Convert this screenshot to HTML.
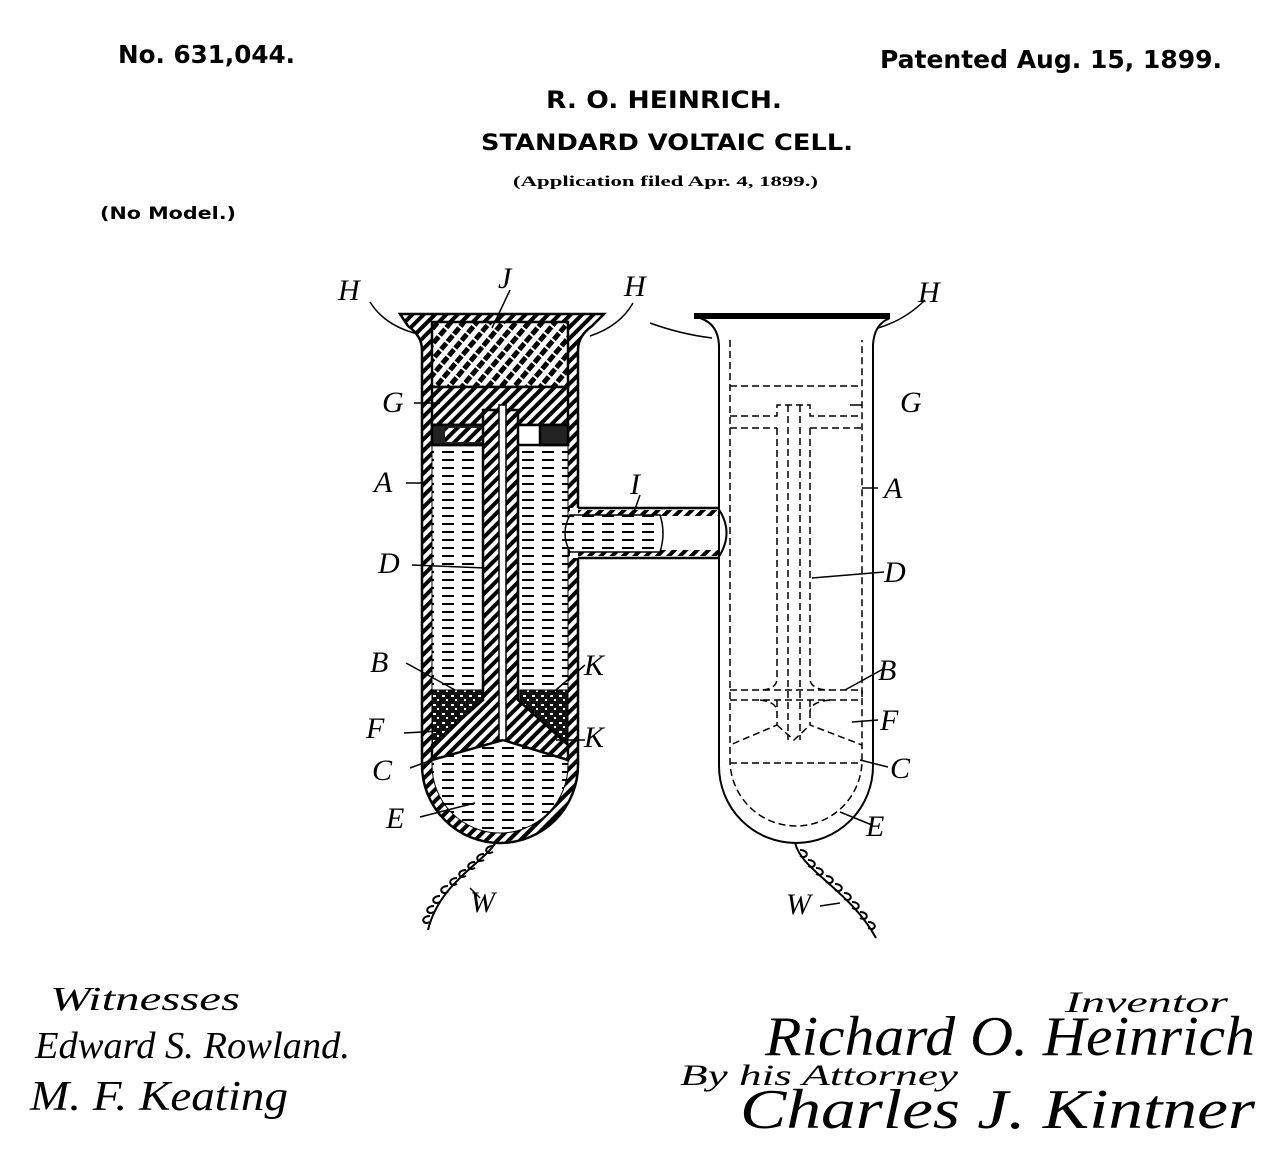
<!DOCTYPE html>
<html><head><meta charset="utf-8"><style>
body{margin:0;background:#fff;width:1280px;height:1163px;overflow:hidden}
svg{display:block}
.h{font-family:"DejaVu Sans","Liberation Sans",sans-serif;font-weight:bold;fill:#000}
.l{font-family:"Liberation Serif",serif;font-style:italic;font-size:30px;fill:#000}
.s{font-family:"Liberation Serif",serif;font-style:italic;fill:#000}
</style></head><body>
<svg width="1280" height="1163" viewBox="0 0 1280 1163" xmlns="http://www.w3.org/2000/svg">
<defs>
<pattern id="hat" width="8" height="8" patternUnits="userSpaceOnUse" patternTransform="rotate(45)"><rect width="8" height="8" fill="#fff"/><rect width="4" height="8" fill="#000"/></pattern>
<pattern id="cross" width="10" height="10" patternUnits="userSpaceOnUse" patternTransform="rotate(40)"><rect width="10" height="10" fill="#fff"/><rect width="5" height="10" fill="#000"/><rect y="4" width="10" height="2" fill="#fff"/></pattern>
<pattern id="liq" width="20" height="8" patternUnits="userSpaceOnUse"><rect width="20" height="8" fill="#fff"/><rect x="2" y="3" width="12" height="2" fill="#000"/><rect x="-8" y="7" width="6" height="1" fill="#000"/></pattern>
<pattern id="grav" width="9" height="9" patternUnits="userSpaceOnUse"><rect width="9" height="9" fill="#111"/><rect x="1" y="2" width="3" height="2" fill="#fff"/><rect x="5" y="6" width="2" height="2" fill="#fff"/></pattern>
</defs>
<!-- header -->
<g lengthAdjust="spacingAndGlyphs">
<text class="h" x="118" y="63" font-size="25" textLength="177" lengthAdjust="spacingAndGlyphs">No. 631,044.</text>
<text class="h" x="880" y="68" font-size="25" textLength="342" lengthAdjust="spacingAndGlyphs">Patented Aug. 15, 1899.</text>
<text class="h" x="546" y="108" font-size="24" textLength="236" lengthAdjust="spacingAndGlyphs">R. O. HEINRICH.</text>
<text class="h" x="481" y="150" font-size="22" textLength="372" lengthAdjust="spacingAndGlyphs">STANDARD VOLTAIC CELL.</text>
<text x="513" y="186" font-size="15" font-weight="bold" font-family="Liberation Serif,serif" textLength="305" lengthAdjust="spacingAndGlyphs">(Application filed Apr. 4, 1899.)</text>
<text class="h" x="100" y="219" font-size="17" textLength="136" lengthAdjust="spacingAndGlyphs">(No Model.)</text>
</g>

<!-- LEFT TUBE -->
<g stroke="#000" stroke-width="2.5">
<path d="M400,314 L604,314 L592,326 Q578,336 578,350 L578,765 A78,78 0 0 1 422,765 L422,350 Q422,336 408,326 Z" fill="url(#hat)"/>
<path d="M432,330 L568,330 L568,765 A68,68 0 0 1 432,765 Z" fill="url(#liq)" stroke-width="1"/>
<rect x="432" y="322" width="136" height="65" fill="url(#cross)"/>
<rect x="432" y="387" width="136" height="38" fill="url(#hat)"/>
<rect x="432" y="425" width="136" height="20" fill="#fff"/>
<rect x="432" y="425" width="55" height="20" fill="#222"/><rect x="445" y="428" width="40" height="14" fill="url(#hat)" stroke="none"/>
<rect x="540" y="425" width="28" height="20" fill="#222"/>
<path d="M432,690 L485,690 L485,740 L432,760 Z" fill="url(#grav)" stroke-width="1"/>
<path d="M568,690 L520,690 L520,730 L568,760 Z" fill="url(#grav)" stroke-width="1"/>
<path d="M483,410 L518,410 L518,700 L568,745 L568,760 L503,740 L432,760 L432,745 L483,700 Z" fill="url(#hat)"/>
<rect x="499" y="405" width="7" height="335" fill="#fff" stroke-width="1.5"/>
<rect x="570" y="508" width="20" height="50" fill="#fff" stroke="none"/>
<path d="M578,508 L718,508 M578,558 L718,558" stroke-width="2.5"/>
<rect x="578" y="510" width="140" height="6" fill="url(#hat)" stroke="none"/>
<rect x="578" y="550" width="140" height="6" fill="url(#hat)" stroke="none"/>
<path d="M570,515 Q560,533 570,552 L660,552 Q666,533 660,515 Z" fill="url(#liq)" stroke-width="1.5"/>
<path d="M718,508 Q735,533 718,558" fill="none" stroke-width="2"/>
</g>

<!-- RIGHT TUBE -->
<g stroke="#000" fill="none">
<path d="M694,316 L890,316" stroke-width="6"/>
<path d="M700,318 Q718,324 719,345 L719,766 A77,77 0 0 0 873,766 L873,345 Q874,324 890,318" stroke-width="2"/>
<g stroke-width="1.5" stroke-dasharray="7,4">
<path d="M730,340 L730,760 A66,66 0 0 0 862,760 L862,340"/>
<path d="M730,386 L862,386 M730,416 L777,416 L777,405 L810,405 L810,416 L862,416 M730,428 L777,428 M810,428 L862,428"/>
<path d="M730,763 L862,763 M730,700 L862,700 M730,690 L862,690 L862,700"/>
<path d="M777,428 L777,680 Q775,690 760,690 M810,428 L810,680 Q812,690 830,690"/>
<path d="M788,405 L788,740 M800,405 L800,740"/>
<path d="M777,700 L777,725 L730,745 M810,700 L810,725 L862,745 M777,725 L794,740 L810,725"/>
<path d="M760,700 Q777,702 777,712 M830,700 Q810,702 810,712"/>
</g>
</g>

<!-- leaders -->
<g stroke="#000" stroke-width="1.5" fill="none">
<path d="M370,302 Q385,326 418,334"/><path d="M633,303 Q620,326 590,336"/>
<path d="M650,323 Q680,334 712,338"/><path d="M925,300 Q905,320 878,328"/>
<path d="M510,290 L492,328"/>
<path d="M414,403 L440,403"/><path d="M862,405 L850,405"/>
<path d="M406,483 L424,483"/><path d="M878,488 L862,488"/>
<path d="M412,565 L485,568"/><path d="M884,572 L812,578"/>
<path d="M406,663 L455,690"/><path d="M885,668 L845,690"/>
<path d="M404,733 L440,731"/><path d="M878,720 L852,722"/>
<path d="M410,768 L440,757"/><path d="M888,767 L860,760"/>
<path d="M420,817 L475,803"/><path d="M872,825 L840,812"/>
<path d="M585,665 L550,695"/><path d="M585,740 L556,740"/>
<path d="M640,495 L634,512"/>
<path d="M480,898 L470,888"/><path d="M820,906 L840,903"/>
</g>
<g class="l">
<text x="338" y="300">H</text><text x="498" y="288">J</text><text x="624" y="296">H</text><text x="918" y="302">H</text>
<text x="382" y="412">G</text><text x="900" y="412">G</text>
<text x="374" y="492">A</text><text x="884" y="498">A</text>
<text x="378" y="573">D</text><text x="884" y="582">D</text>
<text x="370" y="672">B</text><text x="878" y="680">B</text>
<text x="366" y="738">F</text><text x="880" y="730">F</text>
<text x="372" y="780">C</text><text x="890" y="778">C</text>
<text x="386" y="828">E</text><text x="866" y="836">E</text>
<text x="584" y="675">K</text><text x="584" y="747">K</text>
<text x="630" y="494">I</text>
<text x="470" y="912">W</text><text x="786" y="914">W</text>
</g>
<g stroke="#000" stroke-width="2" fill="none">
<path d="M498,838 C490,860 440,880 428,930"/>
<path d="M493,846 c-10,0 -8,10 0,6 M484,854 c-10,0 -8,10 0,6 M475,862 c-10,0 -8,10 0,6 M466,870 c-10,0 -8,10 0,6 M457,878 c-10,0 -8,10 0,6 M448,886 c-10,0 -8,10 0,6 M440,896 c-10,0 -8,10 0,6 M434,906 c-10,0 -8,10 0,6 M430,916 c-10,0 -8,10 0,6"/>
<path d="M795,842 C800,870 850,890 876,938"/>
<path d="M800,850 c10,0 8,10 0,6 M808,860 c10,0 8,10 0,6 M816,868 c10,0 8,10 0,6 M826,876 c10,0 8,10 0,6 M835,884 c10,0 8,10 0,6 M844,893 c10,0 8,10 0,6 M852,902 c10,0 8,10 0,6 M860,912 c10,0 8,10 0,6 M868,922 c10,0 8,10 0,6"/>
</g>

<!-- signatures -->
<g class="s">
<text x="50" y="1010" font-size="34" textLength="190" lengthAdjust="spacingAndGlyphs">Witnesses</text>
<text x="35" y="1058" font-size="38" textLength="315" lengthAdjust="spacingAndGlyphs">Edward S. Rowland.</text>
<text x="30" y="1110" font-size="42" textLength="258" lengthAdjust="spacingAndGlyphs">M. F. Keating</text>
<text x="1065" y="1012" font-size="30" textLength="163" lengthAdjust="spacingAndGlyphs">Inventor</text>
<text x="765" y="1055" font-size="56" textLength="490" lengthAdjust="spacingAndGlyphs">Richard O. Heinrich</text>
<text x="680" y="1085" font-size="30" textLength="278" lengthAdjust="spacingAndGlyphs">By his Attorney</text>
<text x="740" y="1128" font-size="56" textLength="515" lengthAdjust="spacingAndGlyphs">Charles J. Kintner</text>
</g>
</svg>
</body></html>
